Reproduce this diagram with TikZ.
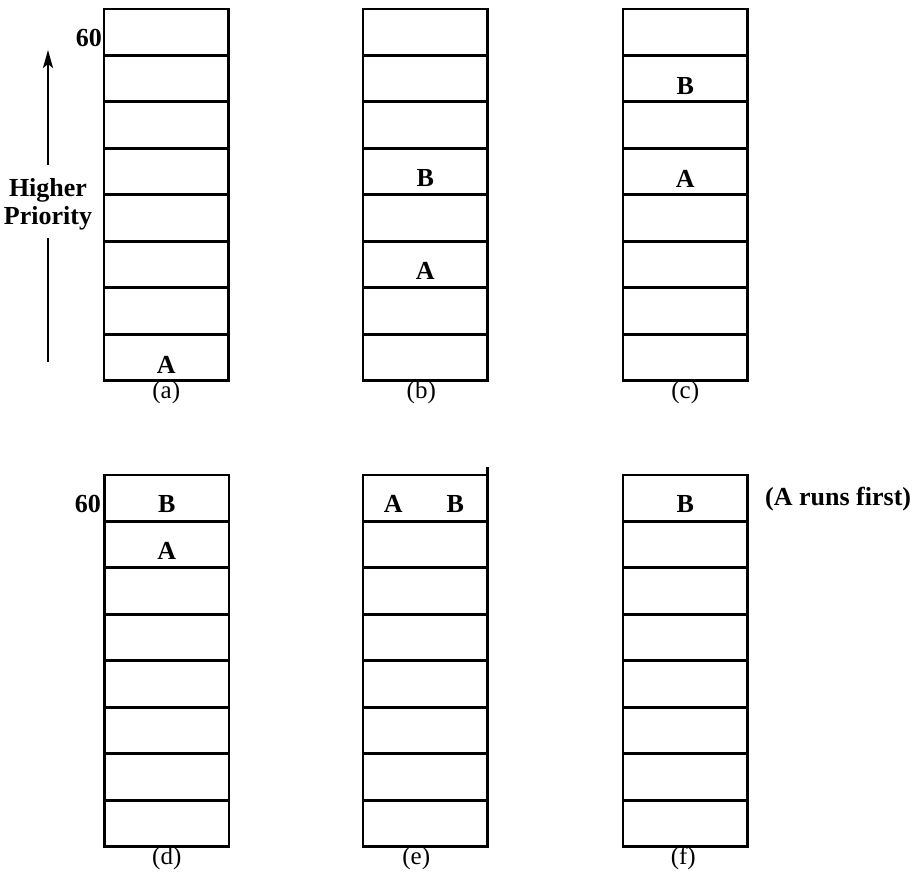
\documentclass[tikz,border=0pt]{standalone}
\usepackage{fontspec}
\setmainfont{Liberation Serif}
\usetikzlibrary{arrows.meta}
\begin{document}
\begin{tikzpicture}[x=1pt,y=-1pt,
  cell/.style={draw, line width=2.8pt, minimum width=124.5pt, minimum height=46.4pt, inner sep=0pt, outer sep=0pt, anchor=north west},
  lbl/.style={font=\fontsize{26}{30}\bfseries\selectfont, anchor=base, inner sep=0pt},
  captext/.style={font=\fontsize{25}{30}\selectfont, anchor=base, inner sep=0pt},
  arr/.style={line width=2.2pt}]
\useasboundingbox (0,0) rectangle (923,874);
% stacks of cells
\foreach \c/\x/\y in {a/104/9, b/363/9, c/623/9, d/104.5/475, e/363/475, f/623/475} {
  \foreach \i in {1,...,8} {
    \node[cell] (\c\i) at (\x, {\y+(\i-1)*46.45}) {};
  }
}
% small overhang of the right edge of (e)
\draw[line width=2.8pt] (e1.north east) -- ++(0,-8) coordinate (eover);
% entries
\node[lbl] (aA) at ([yshift=7pt]a8.south) {A};
\node[lbl] (bB) at ([yshift=8pt]b4.south) {B};
\node[lbl] (bA) at ([yshift=8pt]b6.south) {A};
\node[lbl] (cB) at ([yshift=7pt]c2.south) {B};
\node[lbl] (cA) at ([yshift=7pt]c4.south) {A};
\node[lbl] (dB) at ([yshift=9pt]d1.south) {B};
\node[lbl] (dA) at ([yshift=8pt]d2.south) {A};
\node[lbl] (eA) at ([xshift=-32pt,yshift=9pt]e1.south) {A};
\node[lbl] (eB) at ([xshift=30pt,yshift=9pt]e1.south) {B};
\node[lbl] (fB) at ([yshift=9pt]f1.south) {B};
% captions
\node[captext] (capa) at ([yshift=-18pt]a8.south) {(a)};
\node[captext] (capb) at ([xshift=-4pt,yshift=-18pt]b8.south) {(b)};
\node[captext] (capc) at ([yshift=-18pt]c8.south) {(c)};
\node[captext] (capd) at ([yshift=-18pt]d8.south) {(d)};
\node[captext] (cape) at ([xshift=-9pt,yshift=-18pt]e8.south) {(e)};
\node[captext] (capf) at ([xshift=-2pt,yshift=-18pt]f8.south) {(f)};
% 60 markers
\node[lbl, anchor=base east] (sixa) at (102,47) {60};
\node[lbl, anchor=base east] (sixd) at (101,512) {60};
\node[lbl, anchor=base west] (note) at (765,505) {(A runs first)};
% priority arrow
\node[lbl] (hp1) at (48,197) {Higher};
\node[lbl] (hp2) at (48,225) {Priority};
\coordinate (arrbot) at (48,362);
\coordinate (gbot) at (48,238);
\coordinate (gtop) at (48,165);
\coordinate (arrtop) at (48,50);
\draw[arr] (arrbot) -- (gbot);
\draw[arr, -{Stealth[length=18pt,width=10pt,inset=4pt]}] (gtop) -- (arrtop);
\end{tikzpicture}
\end{document}
